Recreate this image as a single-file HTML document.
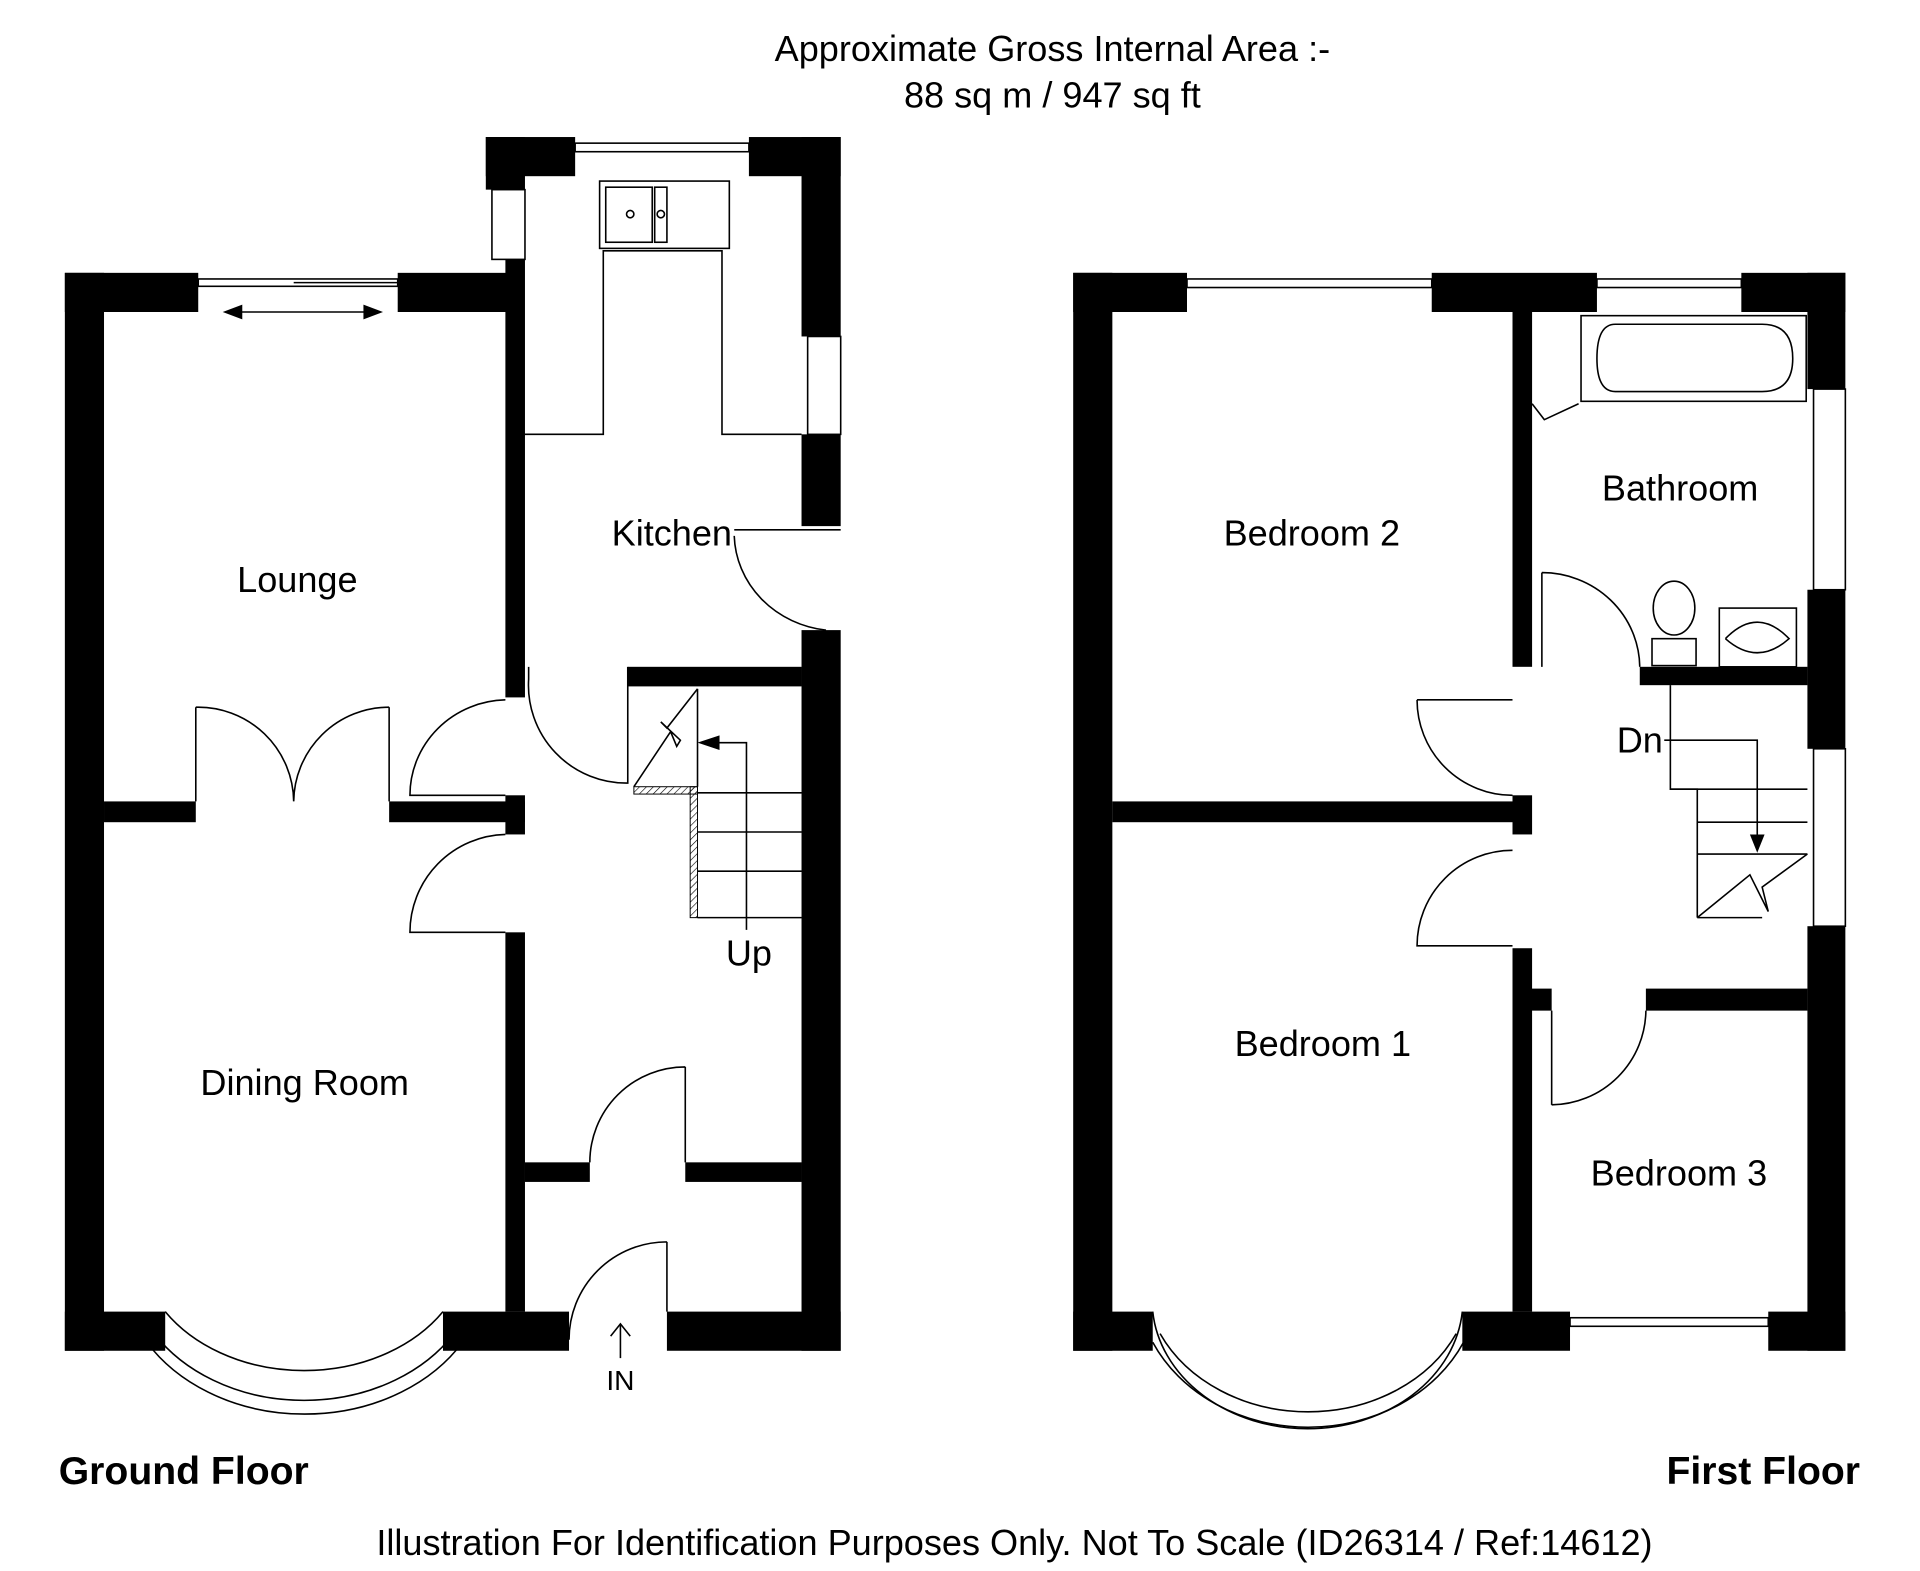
<!DOCTYPE html>
<html><head><meta charset="utf-8"><style>
html,body{margin:0;padding:0;background:#fff;}
svg{display:block;}
text{font-family:"Liberation Sans",sans-serif;fill:#000;}
</style></head><body>
<svg width="1920" height="1571" viewBox="0 0 1569 1284" preserveAspectRatio="none" xmlns="http://www.w3.org/2000/svg">
<defs>
<pattern id="h" width="4" height="4" patternUnits="userSpaceOnUse" patternTransform="rotate(45)"><line x1="0" y1="0" x2="0" y2="4" stroke="#000" stroke-width="1"/></pattern>
</defs>
<rect width="1569" height="1284" fill="#fff"/>
<text x="860" y="50" font-size="29.5" text-anchor="middle">Approximate Gross Internal Area :-</text>
<text x="860" y="88" font-size="29.5" text-anchor="middle">88 sq m / 947 sq ft</text>

<g fill="#000">
<rect x="53" y="223" width="32" height="881"/>
<rect x="53" y="223" width="109" height="32"/>
<rect x="325" y="223" width="90" height="32"/>
<rect x="397" y="112" width="73" height="32"/>
<rect x="612" y="112" width="75" height="32"/>
<rect x="397" y="112" width="32" height="43"/>
<rect x="413" y="212" width="16" height="358"/>
<rect x="655" y="112" width="32" height="163"/>
<rect x="655" y="355" width="32" height="75"/>
<rect x="655" y="515" width="32" height="589"/>
<rect x="53" y="1072" width="82" height="32"/>
<rect x="362" y="1072" width="103" height="32"/>
<rect x="545" y="1072" width="142" height="32"/>
<rect x="85" y="655" width="75" height="17"/>
<rect x="318" y="655" width="111" height="17"/>
<rect x="413" y="650" width="16" height="32"/>
<rect x="413" y="762" width="16" height="310"/>
<rect x="513" y="545" width="142" height="16"/>
<rect x="429" y="950" width="53" height="16"/>
<rect x="560" y="950" width="95" height="16"/>
<rect x="877" y="223" width="32" height="881"/>
<rect x="877" y="223" width="93" height="32"/>
<rect x="1170" y="223" width="135" height="32"/>
<rect x="1423" y="223" width="85" height="32"/>
<rect x="1477" y="223" width="31" height="95"/>
<rect x="1477" y="482" width="31" height="130"/>
<rect x="1477" y="757" width="31" height="347"/>
<rect x="877" y="1072" width="65" height="32"/>
<rect x="1195" y="1072" width="88" height="32"/>
<rect x="1445" y="1072" width="63" height="32"/>
<rect x="909" y="655" width="341" height="17"/>
<rect x="1236" y="255" width="16" height="290"/>
<rect x="1236" y="650" width="16" height="32"/>
<rect x="1236" y="775" width="16" height="297"/>
<rect x="1340" y="545" width="137" height="15"/>
<rect x="1345" y="808" width="132" height="18"/>
<rect x="1236" y="808" width="32" height="18"/>
</g>
<rect x="518" y="643" width="52" height="6" fill="url(#h)" stroke="#000" stroke-width="0.8"/>
<rect x="564" y="643" width="6" height="107" fill="url(#h)" stroke="#000" stroke-width="0.8"/>

<g fill="none" stroke="#000" stroke-width="1.3">
<rect x="162" y="228" width="163" height="6"/>
<line x1="240" y1="231" x2="325" y2="231"/>
<rect x="470" y="117" width="142" height="7"/>
<rect x="402" y="155" width="27" height="57"/>
<rect x="660" y="275" width="27" height="80"/>
<rect x="970" y="228" width="200" height="7"/>
<rect x="1305" y="228" width="118" height="7"/>
<rect x="1482" y="318" width="26" height="164"/>
<rect x="1482" y="612" width="26" height="145"/>
<rect x="1283" y="1077" width="162" height="7"/>
<line x1="185" y1="255" x2="310" y2="255"/>
<polyline points="429,355 493,355 493,205 590,205 590,355 655,355"/>
<rect x="490" y="148" width="106" height="55"/>
<rect x="495" y="153" width="38" height="45"/>
<rect x="535" y="153" width="10" height="45"/>
<circle cx="515" cy="175" r="3"/><circle cx="540" cy="175" r="3"/>
<path d="M135,1072 A135,105 0 0 0 362,1072"/>
<path d="M120,1097 A150,120 0 0 0 378,1097"/>
<path d="M126,1090 A144,115 0 0 0 371,1090"/>
<path d="M942,1072 A127,105 0 0 0 1195,1072"/>
<path d="M942,1097 A140,120 0 0 0 1196,1097"/>
<path d="M948,1090 A134,112 0 0 0 1190,1090"/>
<line x1="600" y1="433" x2="687" y2="433"/>
<path d="M600,438 A85,80 0 0 0 675,515"/>
<path d="M160,578 A78,78 0 0 1 240,655 M318,578 A78,78 0 0 0 240,655"/>
<line x1="160" y1="578" x2="160" y2="655"/><line x1="318" y1="578" x2="318" y2="655"/>
<path d="M413,572 A80,78 0 0 0 335,650 L413,650"/>
<path d="M413,682 A80,80 0 0 0 335,762 L413,762"/>
<path d="M432,545 L432,555 A80,80 0 0 0 513,640 L513,545"/>
<path d="M560,872 L560,950 M560,872 A78,78 0 0 0 482,950"/>
<path d="M545,1015 L545,1072 M545,1015 A80,80 0 0 0 465,1095"/>
<line x1="570" y1="563" x2="570" y2="643"/>
<polyline points="518,643 548,598 553,610 556,605 540,590 545,595 570,563"/>
<line x1="570" y1="648" x2="655" y2="648"/>
<line x1="570" y1="680" x2="655" y2="680"/>
<line x1="570" y1="712" x2="655" y2="712"/>
<line x1="570" y1="750" x2="655" y2="750"/>
<polyline points="610,760 610,607 575,607"/>
<line x1="507" y1="1083" x2="507" y2="1110"/><polyline points="499,1092 507,1082 515,1092"/>
<path d="M1158,572 L1236,572 M1158,572 A78,78 0 0 0 1236,650"/>
<path d="M1236,695 A78,78 0 0 0 1158,773 L1236,773"/>
<path d="M1260,468 L1260,545 M1260,468 A80,78 0 0 1 1340,545"/>
<path d="M1268,826 L1268,903 M1345,826 A78,78 0 0 1 1268,903"/>
<polyline points="1252,330 1262,343 1290,330"/>
<rect x="1292" y="258" width="184" height="70"/>
<path d="M1320,265 L1440,265 Q1465,265 1465,293 Q1465,320 1440,320 L1320,320 Q1305,320 1305,293 Q1305,265 1320,265 Z"/>
<ellipse cx="1368" cy="497" rx="17" ry="22"/>
<rect x="1350" y="522" width="36" height="22"/>
<rect x="1405" y="497" width="63" height="48"/>
<path d="M1410,522 Q1436,495 1462,522 Q1436,545 1410,522"/>
<polyline points="1365,560 1365,645 1387,645 1387,750"/>
<line x1="1365" y1="645" x2="1477" y2="645"/>
<line x1="1387" y1="672" x2="1477" y2="672"/>
<line x1="1387" y1="698" x2="1477" y2="698"/>
<line x1="1387" y1="750" x2="1440" y2="750"/>
<polyline points="1477,698 1440,725 1445,745 1430,715 1387,750"/>
<polyline points="1360,605 1436,605 1436,690"/>
</g>
<g fill="#000">
<polygon points="182,255 198,249 198,261"/>
<polygon points="313,255 297,249 297,261"/>
<polygon points="570,607 588,601 588,613"/>
<polygon points="1436,697 1430,682 1442,682"/>
</g>

<text x="243" y="484" font-size="29.5" text-anchor="middle">Lounge</text>
<text x="549" y="446" font-size="29.5" text-anchor="middle">Kitchen</text>
<text x="249" y="895" font-size="29.5" text-anchor="middle">Dining Room</text>
<text x="612" y="789" font-size="29.5" text-anchor="middle">Up</text>
<text x="507" y="1136" font-size="23" text-anchor="middle">IN</text>
<text x="1072" y="446" font-size="29.5" text-anchor="middle">Bedroom 2</text>
<text x="1373" y="409" font-size="29.5" text-anchor="middle">Bathroom</text>
<text x="1340" y="615" font-size="29.5" text-anchor="middle">Dn</text>
<text x="1081" y="863" font-size="29.5" text-anchor="middle">Bedroom 1</text>
<text x="1372" y="969" font-size="29.5" text-anchor="middle">Bedroom 3</text>
<text x="48" y="1213" font-size="32" font-weight="bold">Ground Floor</text>
<text x="1520" y="1213" font-size="32" font-weight="bold" text-anchor="end">First Floor</text>
<text x="829" y="1271" font-size="29.5" text-anchor="middle">Illustration For Identification Purposes Only. Not To Scale (ID26314 / Ref:14612)</text>
</svg>
</body></html>
